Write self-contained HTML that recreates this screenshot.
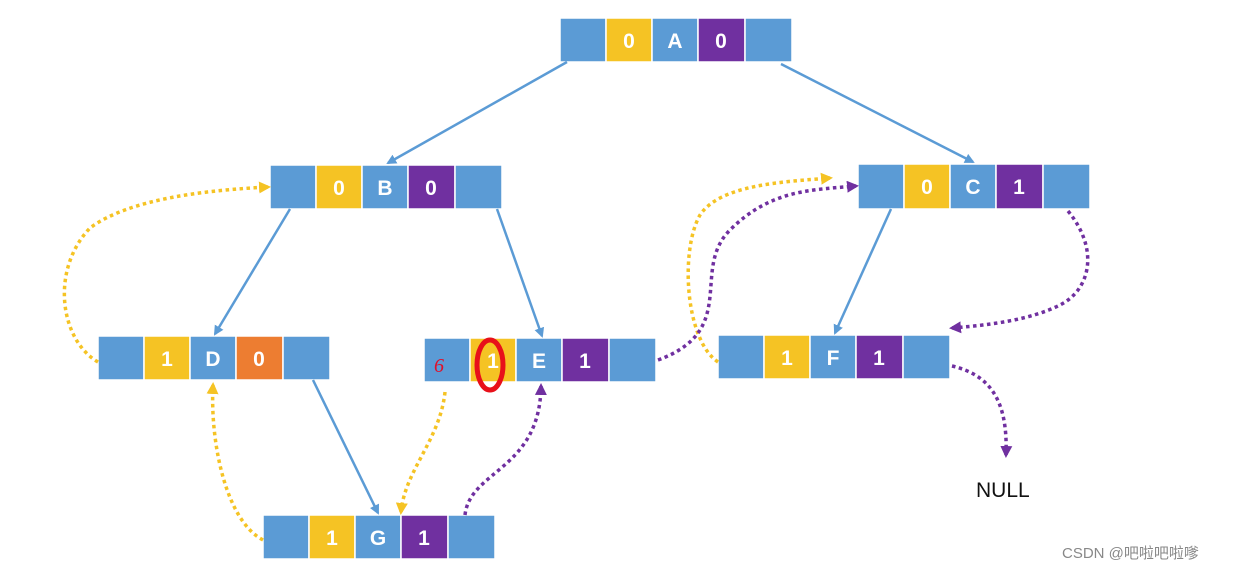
<!DOCTYPE html>
<html><head><meta charset="utf-8"><style>
body{margin:0;background:#fff;}
svg{display:block;}
.t{font-family:"Liberation Sans",sans-serif;font-size:21px;font-weight:bold;fill:#fff;text-anchor:middle;}
</style></head><body>
<svg width="1248" height="572" viewBox="0 0 1248 572" xmlns="http://www.w3.org/2000/svg">
<defs>
<marker id="ab" markerWidth="10" markerHeight="10" refX="8" refY="5" orient="auto" markerUnits="userSpaceOnUse"><path d="M0,0 L10,5 L0,10 z" fill="#5b9bd5"/></marker>
<marker id="ay" markerWidth="12" markerHeight="12" refX="9" refY="6" orient="auto" markerUnits="userSpaceOnUse"><path d="M0,0 L12,6 L0,12 z" fill="#f5c324"/></marker>
<marker id="ap" markerWidth="12" markerHeight="12" refX="9" refY="6" orient="auto" markerUnits="userSpaceOnUse"><path d="M0,0 L12,6 L0,12 z" fill="#7030a0"/></marker>
</defs>
<g stroke="#fff" stroke-width="1.5">
<!-- A -->
<rect x="560" y="18" width="46" height="44" fill="#5b9bd5"/><rect x="606" y="18" width="46" height="44" fill="#f5c324"/><rect x="652" y="18" width="46" height="44" fill="#5b9bd5"/><rect x="698" y="18" width="47" height="44" fill="#7030a0"/><rect x="745" y="18" width="47" height="44" fill="#5b9bd5"/>
<!-- B -->
<rect x="270" y="165" width="46" height="44" fill="#5b9bd5"/><rect x="316" y="165" width="46" height="44" fill="#f5c324"/><rect x="362" y="165" width="46" height="44" fill="#5b9bd5"/><rect x="408" y="165" width="47" height="44" fill="#7030a0"/><rect x="455" y="165" width="47" height="44" fill="#5b9bd5"/>
<!-- C -->
<rect x="858" y="164" width="46" height="45" fill="#5b9bd5"/><rect x="904" y="164" width="46" height="45" fill="#f5c324"/><rect x="950" y="164" width="46" height="45" fill="#5b9bd5"/><rect x="996" y="164" width="47" height="45" fill="#7030a0"/><rect x="1043" y="164" width="47" height="45" fill="#5b9bd5"/>
<!-- D -->
<rect x="98" y="336" width="46" height="44" fill="#5b9bd5"/><rect x="144" y="336" width="46" height="44" fill="#f5c324"/><rect x="190" y="336" width="46" height="44" fill="#5b9bd5"/><rect x="236" y="336" width="47" height="44" fill="#ed7d31"/><rect x="283" y="336" width="47" height="44" fill="#5b9bd5"/>
<!-- E -->
<rect x="424" y="338" width="46" height="44" fill="#5b9bd5"/><rect x="470" y="338" width="46" height="44" fill="#f5c324"/><rect x="516" y="338" width="46" height="44" fill="#5b9bd5"/><rect x="562" y="338" width="47" height="44" fill="#7030a0"/><rect x="609" y="338" width="47" height="44" fill="#5b9bd5"/>
<!-- F -->
<rect x="718" y="335" width="46" height="44" fill="#5b9bd5"/><rect x="764" y="335" width="46" height="44" fill="#f5c324"/><rect x="810" y="335" width="46" height="44" fill="#5b9bd5"/><rect x="856" y="335" width="47" height="44" fill="#7030a0"/><rect x="903" y="335" width="47" height="44" fill="#5b9bd5"/>
<!-- G -->
<rect x="263" y="515" width="46" height="44" fill="#5b9bd5"/><rect x="309" y="515" width="46" height="44" fill="#f5c324"/><rect x="355" y="515" width="46" height="44" fill="#5b9bd5"/><rect x="401" y="515" width="47" height="44" fill="#7030a0"/><rect x="448" y="515" width="47" height="44" fill="#5b9bd5"/>
</g>
<g class="t">
<text class="t" x="629" y="48">0</text><text class="t" x="675" y="48">A</text><text class="t" x="721" y="48">0</text>
<text class="t" x="339" y="195">0</text><text class="t" x="385" y="195">B</text><text class="t" x="431" y="195">0</text>
<text class="t" x="927" y="194">0</text><text class="t" x="973" y="194">C</text><text class="t" x="1019" y="194">1</text>
<text class="t" x="167" y="366">1</text><text class="t" x="213" y="366">D</text><text class="t" x="259" y="366">0</text>
<text class="t" x="493" y="368">1</text><text class="t" x="539" y="368">E</text><text class="t" x="585" y="368">1</text>
<text class="t" x="787" y="365">1</text><text class="t" x="833" y="365">F</text><text class="t" x="879" y="365">1</text>
<text class="t" x="332" y="545">1</text><text class="t" x="378" y="545">G</text><text class="t" x="424" y="545">1</text>
</g>
<text x="434" y="372" font-family="Liberation Serif,serif" font-style="italic" font-size="20" fill="#e0102a">6</text>
<ellipse cx="490" cy="365" rx="13" ry="25" fill="none" stroke="#e8101a" stroke-width="5"/>
<g stroke="#5b9bd5" stroke-width="2.5" fill="none">
<line x1="567" y1="62" x2="388" y2="163" marker-end="url(#ab)"/>
<line x1="781" y1="64" x2="973" y2="162" marker-end="url(#ab)"/>
<line x1="290" y1="209" x2="215" y2="334" marker-end="url(#ab)"/>
<line x1="497" y1="209" x2="542" y2="336" marker-end="url(#ab)"/>
<line x1="891" y1="209" x2="835" y2="333" marker-end="url(#ab)"/>
<line x1="313" y1="380" x2="378" y2="513" marker-end="url(#ab)"/>
</g>
<g fill="none" stroke-width="3.5" stroke-dasharray="3.5 3.5">
<path d="M98,362 C60,340 50,270 90,228 C130,198 210,190 268,187" stroke="#f5c324" marker-end="url(#ay)"/>
<path d="M718,362 C685,340 680,250 700,215 C720,185 780,182 830,178" stroke="#f5c324" marker-end="url(#ay)"/>
<path d="M445,392 C440,440 405,470 401,512" stroke="#f5c324" marker-end="url(#ay)"/>
<path d="M263,540 C225,520 210,440 213,385" stroke="#f5c324" marker-end="url(#ay)"/>
<path d="M658,360 C740,330 690,270 730,230 C770,190 810,190 856,186" stroke="#7030a0" marker-end="url(#ap)"/>
<path d="M1068,211 C1100,250 1090,290 1060,305 C1030,320 990,325 952,328" stroke="#7030a0" marker-end="url(#ap)"/>
<path d="M952,366 C990,375 1008,400 1006,455" stroke="#7030a0" marker-end="url(#ap)"/>
<path d="M465,515 C470,470 540,470 541,386" stroke="#7030a0" marker-end="url(#ap)"/>
</g>
<text x="976" y="497" font-family="Liberation Sans,sans-serif" font-size="21" fill="#111">NULL</text>
<text x="1062" y="558" font-family="Liberation Sans,'Noto Sans CJK SC',sans-serif" font-size="15" fill="#888">CSDN @吧啦吧啦嗲</text>
</svg>
</body></html>
